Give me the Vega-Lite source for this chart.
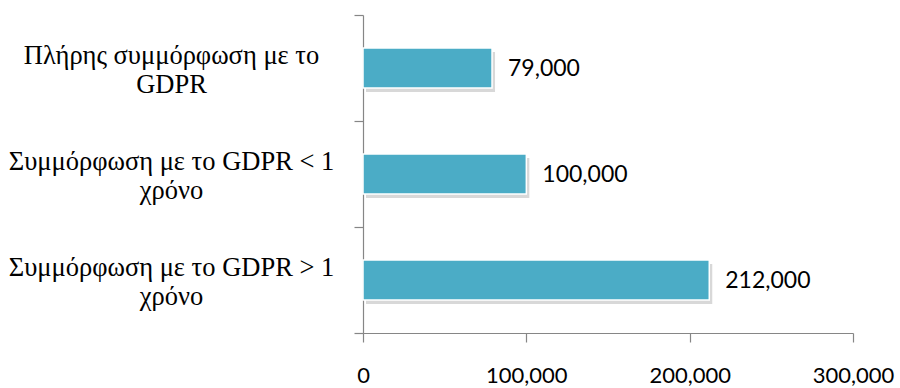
{
  "$schema": "https://vega.github.io/schema/vega-lite/v6.json",
  "width": 490,
  "height": 318,
  "autosize": {"type": "none"},
  "padding": {"left": 363, "top": 15, "right": 47, "bottom": 55},
  "background": "white",
  "config": {"view": {"stroke": null}},
  "data": {
    "values": [
      {"category": "Πλήρης συμμόρφωση με το\nGDPR", "value": 79000},
      {"category": "Συμμόρφωση με το GDPR < 1\nχρόνο", "value": 100000},
      {"category": "Συμμόρφωση με το GDPR > 1\nχρόνο", "value": 212000}
    ]
  },
  "encoding": {
    "y": {
      "field": "category",
      "type": "nominal",
      "sort": null,
      "scale": {"paddingInner": 0, "paddingOuter": 0},
      "axis": {
        "title": null,
        "grid": false,
        "domainColor": "#868686",
        "domainWidth": 1.2,
        "tickColor": "#868686",
        "tickWidth": 1.2,
        "tickSize": 9,
        "tickBand": "extent",
        "labelExpr": "split(indexof(datum.label, '\\nGDPR') > 0 ? '\u2002\u2002\u00a0' + replace(datum.label, '\\n', '\\n\u2002\u2002\u00a0') : datum.label, '\\n')",
        "labelFont": "Liberation Serif",
        "labelFontSize": 26.5,
        "labelLineHeight": 29,
        "labelColor": "#000000",
        "labelAlign": "center",
        "labelBaseline": "middle",
        "labelPadding": 183,
        "labelOffset": -13,
        "labelLimit": 0
      }
    },
    "x": {
      "field": "value",
      "type": "quantitative",
      "scale": {"domain": [0, 300000], "nice": false},
      "axis": {
        "title": null,
        "grid": false,
        "values": [0, 100000, 200000, 300000],
        "format": ",.0f",
        "domainColor": "#868686",
        "domainWidth": 1.2,
        "tickColor": "#868686",
        "tickWidth": 1.2,
        "tickSize": 9,
        "labelFont": "Lato",
        "labelFontSize": 22,
        "labelColor": "#000000",
        "labelPadding": 23,
        "labelFlush": false,
        "labelOverlap": false
      }
    }
  },
  "layer": [
    {
      "mark": {"type": "bar", "size": 40, "color": "#7f7f7f", "opacity": 0.3, "xOffset": 3, "yOffset": 4}
    },
    {
      "mark": {"type": "bar", "size": 40, "color": "#4BACC6", "stroke": "white", "strokeWidth": 1.5}
    },
    {
      "mark": {"type": "text", "align": "left", "baseline": "middle", "dx": 16, "dy": 1, "font": "Lato", "fontSize": 23, "color": "#000000"},
      "encoding": {"text": {"field": "value", "type": "quantitative", "format": ",.0f"}}
    }
  ]
}
